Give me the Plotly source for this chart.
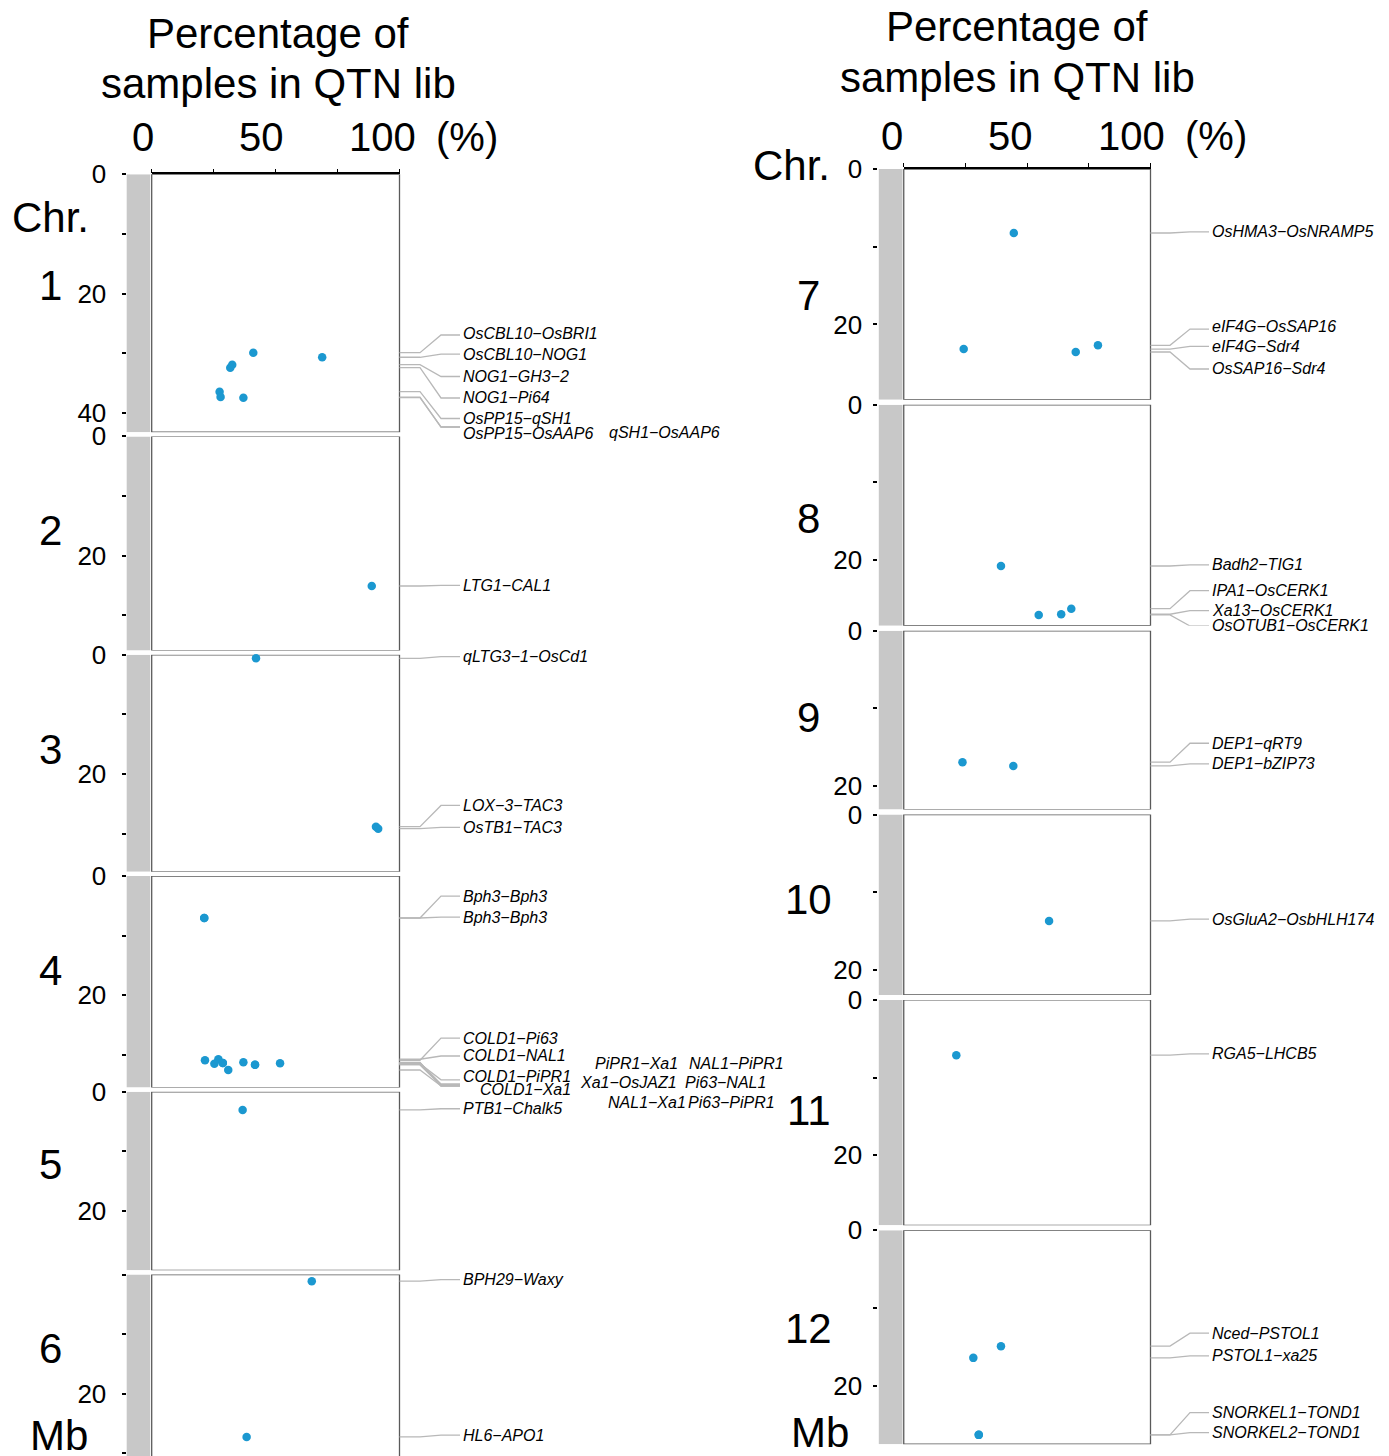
import plotly.graph_objects as go

W, H = 1389, 1456
OFF = 8  # browser body margin offset (px)
FONT = "Liberation Sans, Arial, sans-serif"

# ---------------- data ----------------
CHROMOSOMES = [1, 2, 3, 4, 5, 6, 7, 8, 9, 10, 11, 12]
CHR_LENGTH_MB = [43.27, 35.94, 36.41, 35.50, 29.96, 31.25, 29.70, 28.44, 23.01, 23.21, 29.02, 27.53]

PAIR_LABELS = [
    "OsCBL10−OsBRI1", "OsCBL10−NOG1", "NOG1−GH3−2", "NOG1−Pi64", "OsPP15−qSH1", "OsPP15−OsAAP6", "qSH1−OsAAP6",
    "LTG1−CAL1",
    "qLTG3−1−OsCd1", "LOX−3−TAC3", "OsTB1−TAC3",
    "Bph3−Bph3", "Bph3−Bph3", "COLD1−Pi63", "COLD1−NAL1", "COLD1−PiPR1", "COLD1−Xa1",
    "PiPR1−Xa1", "NAL1−PiPR1", "Xa1−OsJAZ1", "Pi63−NAL1", "NAL1−Xa1", "Pi63−PiPR1",
    "PTB1−Chalk5",
    "BPH29−Waxy", "HL6−APO1",
    "OsHMA3−OsNRAMP5", "eIF4G−OsSAP16", "eIF4G−Sdr4", "OsSAP16−Sdr4",
    "Badh2−TIG1", "IPA1−OsCERK1", "Xa13−OsCERK1", "OsOTUB1−OsCERK1",
    "DEP1−qRT9", "DEP1−bZIP73",
    "OsGluA2−OsbHLH174",
    "RGA5−LHCB5",
    "Nced−PSTOL1", "PSTOL1−xa25", "SNORKEL1−TOND1", "SNORKEL2−TOND1",
]
PAIR_CHR = [1] * 7 + [2] + [3] * 3 + [4] * 12 + [5] + [6] * 2 + [7] * 4 + [8] * 4 + [9] * 2 + [10] + [11] + [12] * 4

# position on chromosome (Mb)
PAIR_POS_MB = [
    29.93, 30.70, 31.95, 32.45, 36.48, 37.37, 37.48,
    25.10,
    0.59, 28.84, 29.18,
    7.05, 7.05, 30.92, 30.75, 31.49, 31.38, 31.26, 31.66, 32.55, 31.43, 31.38, 31.66,
    3.05,
    1.12, 27.25,
    8.24, 22.69, 23.17, 23.55,
    20.75, 26.24, 26.96, 27.05,
    16.92, 17.40,
    13.69,
    7.12,
    14.90, 16.41, 26.32, 26.32,
]
# percentage of samples in QTN lib
PAIR_PCT = [
    41.0, 68.8, 32.5, 31.7, 27.4, 27.8, 37.0,
    88.8,
    42.1, 90.5, 91.4,
    21.2, 21.2, 21.5, 26.9, 25.3, 28.7, 37.0, 41.7, 30.9, 51.8, 28.7, 41.7,
    36.7,
    64.6, 38.3,
    44.6, 78.7, 24.3, 69.7,
    39.4, 67.9, 63.8, 54.7,
    23.8, 44.4,
    58.9,
    21.3,
    39.4, 28.2, 30.4, 30.4,
]

# ---------------- label layout (repel result, Mb along chromosome) ----------------
LABEL_TEXT_MB = [
    26.63, 30.17, 33.93, 37.53, 40.97, 43.49, 43.24,
    25.00,
    0.30, 25.28, 28.97,
    3.36, 6.90, 27.20, 30.20, 33.60, 35.90, 31.54, 31.54, 34.73, 34.73, 38.00, 38.00,
    2.85,
    0.85, 26.95,
    8.10, 20.27, 22.84, 25.74,
    20.60, 23.93, 26.50, 28.47,
    14.48, 17.14,
    13.47,
    6.95,
    13.23, 16.15, 23.45, 26.02,
]
LABEL_LINE_MB = [
    26.96, 30.17, 33.93, 37.53, 40.97, 42.40, 42.40,
    25.00,
    0.30, 25.28, 28.97,
    3.36, 6.90, 27.20, 30.20, 34.20, 34.90, 35.07, 35.07, 35.23, 35.23, 35.23, 35.23,
    2.85,
    0.85, 26.95,
    8.10, 20.60, 22.84, 25.74,
    20.60, 23.93, 26.50, 28.47,
    14.48, 17.14,
    13.47,
    6.95,
    13.23, 16.15, 23.45, 26.02,
]
LABEL_DX_PX = [
    0, 0, 0, 0, 0, 0, 146,
    0,
    0, 0, 0,
    0, 0, 0, 0, 0, 17, 132, 226, 117, 222, 145, 225,
    0,
    0, 0,
    0, 0, 0, 0,
    0, 0, 0, 0,
    0, 0,
    0,
    0,
    0, 0, 0, 0,
]

# ---------------- column geometry (screen pixels) ----------------
COLS = {
    "L": dict(chroms=[1, 2, 3, 4, 5, 6], box=(151.7, 399.5), axis=125.5, bar=(126.7, 150.2),
              top=174.3, scale=5.96, gap=4.2, bends=(420, 441, 460), text=461, standoff=10,
              num_x=50, chr_xy=(50, 218), mb_xy=(59, 1435),
              title_x=278, title_y=(33, 83), ticks_x=(143, 261, 382, 467), ticks_y=137),
    "R": dict(chroms=[7, 8, 9, 10, 11, 12], box=(903.75, 1150.5), axis=877.3, bar=(878.8, 902.5),
              top=169.0, scale=7.77, gap=5.0, bends=(1170, 1190, 1209), text=1210, standoff=6,
              num_x=809, chr_xy=(792, 165), mb_xy=(820, 1432),
              title_x=1017, title_y=(27, 77), ticks_x=(892, 1010, 1131, 1216), ticks_y=136),
}
NUM_SHIFT_PX = {1: 18, 2: 13, 3: 14, 4: 11, 5: 17, 6: 19, 7: -11, 8: -3, 9: 3, 10: 5, 11: 2, 12: 9}
HIDE_ZERO = {6}

DOT = "#1b98d0"
LEADER = "#b8b8b8"


def px(x):
    return (x - OFF) / W


def py(y):
    return 1 - (y - OFF) / H


fig = go.Figure()
layout = dict(width=W, height=H, margin=dict(l=0, r=0, t=0, b=0, pad=0, autoexpand=False),
              paper_bgcolor="white", plot_bgcolor="white", showlegend=False)
shapes, annotations = [], []

for key, col in COLS.items():
    top = col["top"]
    for i, c in enumerate(col["chroms"]):
        L = CHR_LENGTH_MB[CHROMOSOMES.index(c)]
        bottom = top + L * col["scale"]
        vis_bottom = min(bottom, H + OFF)
        vis_len = (vis_bottom - top) / col["scale"]
        sfx = "" if c == 1 else str(c)
        xa, ya = "x" + sfx, "y" + sfx
        first = i == 0
        layout["xaxis" + sfx] = dict(
            domain=[px(col["box"][0]), px(col["box"][1])], anchor=ya, range=[0, 100],
            showgrid=False, zeroline=False, showticklabels=False, fixedrange=True, automargin=False,
            side="top" if first else "bottom",
            showline=first, linecolor="black", linewidth=1.6,
            ticks="outside" if first else "", tickvals=[0, 25, 50, 75, 100],
            ticklen=4, tickwidth=1.2, tickcolor="black")
        tv = list(range(0, int(L) + 1, 10))
        tt = [str(v) if v % 20 == 0 else "" for v in tv]
        if c in HIDE_ZERO:
            tt[0] = ""
        layout["yaxis" + sfx] = dict(
            domain=[max(0.0, py(vis_bottom)), py(top)], anchor="free", position=px(col["axis"]),
            range=[vis_len, 0], showgrid=False, zeroline=False, showline=False, fixedrange=True,
            automargin=False,
            tickvals=tv, ticktext=tt, ticks="outside", ticklen=4, tickwidth=1.5, tickcolor="black",
            tickfont=dict(family=FONT, size=26, color="black"), ticklabelstandoff=col["standoff"])
        # chromosome bar
        shapes.append(dict(type="rect", xref="paper", yref=ya, x0=px(col["bar"][0]), x1=px(col["bar"][1]),
                           y0=0, y1=L, fillcolor="#c8c8c8", line=dict(width=0), layer="below"))
        # panel box
        shapes.append(dict(type="rect", xref="paper", yref=ya, x0=px(col["box"][0]), x1=px(col["box"][1]),
                           y0=0, y1=L, line=dict(color="#5a5a5a", width=1.3), layer="below"))
        # chromosome number
        annotations.append(dict(text=str(c), xref="paper", yref="paper", x=px(col["num_x"]),
                                y=py(top + L * col["scale"] / 2), yshift=NUM_SHIFT_PX[c],
                                showarrow=False, xanchor="center", yanchor="middle",
                                font=dict(family=FONT, size=42, color="black")))
        # points + labels
        idx = [k for k, pc in enumerate(PAIR_CHR) if pc == c]
        fig.add_trace(go.Scatter(
            x=[PAIR_PCT[k] for k in idx], y=[PAIR_POS_MB[k] for k in idx],
            text=[PAIR_LABELS[k] for k in idx], mode="markers", xaxis=xa, yaxis=ya,
            cliponaxis=False, hoverinfo="text",
            marker=dict(size=8.5, color=DOT, line=dict(width=0))))
        b1, b2, b3 = col["bends"]
        x0 = col["box"][1]
        for k in idx:
            p, e = PAIR_POS_MB[k], LABEL_LINE_MB[k]
            path = f"M {px(x0)},{p} L {px(b1)},{p} L {px(b2)},{e} L {px(b3)},{e}"
            shapes.append(dict(type="path", xref="paper", yref=ya, path=path,
                               line=dict(color=LEADER, width=1.3)))
            annotations.append(dict(text="<i>" + PAIR_LABELS[k] + "</i>", xref="paper", yref="paper",
                                    x=px(col["text"] + LABEL_DX_PX[k]),
                                    y=py(top + LABEL_TEXT_MB[k] * col["scale"]),
                                    showarrow=False, xanchor="left", yanchor="middle",
                                    font=dict(family=FONT, size=16, color="black")))
        top = bottom + col["gap"]

    # titles / axis annotations
    big = dict(family=FONT, size=42, color="black")
    for line, yy in zip(["Percentage of", "samples in QTN lib"], col["title_y"]):
        annotations.append(dict(text=line, xref="paper", yref="paper", x=px(col["title_x"]), y=py(yy),
                                showarrow=False, xanchor="center", yanchor="middle", font=big))
    for lab, xx in zip(["0", "50", "100", "(%)"], col["ticks_x"]):
        annotations.append(dict(text=lab, xref="paper", yref="paper", x=px(xx), y=py(col["ticks_y"]),
                                showarrow=False, xanchor="center", yanchor="middle",
                                font=dict(family=FONT, size=40, color="black")))
    annotations.append(dict(text="Chr.", xref="paper", yref="paper", x=px(col["chr_xy"][0]),
                            y=py(col["chr_xy"][1]), showarrow=False, xanchor="center",
                            yanchor="middle", font=big))
    annotations.append(dict(text="Mb", xref="paper", yref="paper", x=px(col["mb_xy"][0]),
                            y=py(col["mb_xy"][1]), showarrow=False, xanchor="center",
                            yanchor="middle", font=big))

layout["shapes"] = shapes
layout["annotations"] = annotations
fig.update_layout(**layout)
fig.write_html("out.html")
